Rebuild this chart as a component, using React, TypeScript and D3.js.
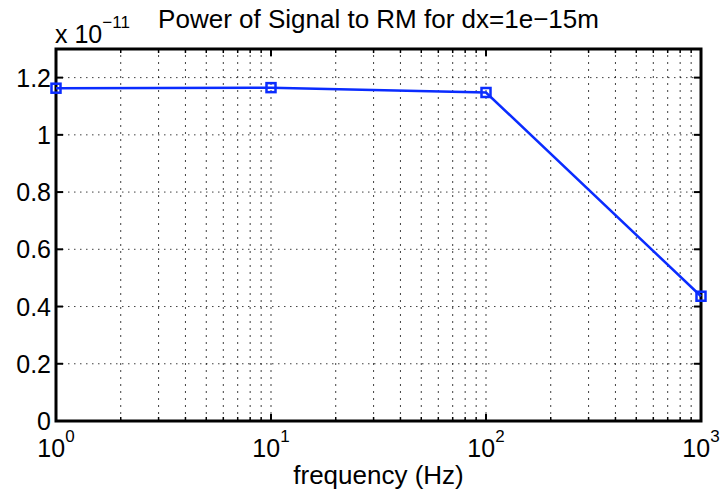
import React from "react";
import * as d3 from "d3";

const frequencies = [1, 10, 100, 1000];
const powerValues = [1.163, 1.165, 1.148, 0.436]; // x 1e-11
const yTicks = [0, 0.2, 0.4, 0.6, 0.8, 1, 1.2];
const xDecades = [1, 10, 100, 1000];
const xExponents = ["0", "1", "2", "3"];
const titleText = "Power of Signal to RM for dx=1e\u221215m";
const xLabel = "frequency (Hz)";

const W = 723;
const H = 490;
const M = { left: 56, right: 22, top: 49, bottom: 69 };

export default function App() {
  const x = d3.scaleLog().domain([1, 1000]).range([M.left, W - M.right]);
  const y = d3.scaleLinear().domain([0, 1.3]).range([H - M.bottom, M.top]);
  const minor: number[] = [];
  for (let d = 1; d < 1000; d *= 10) for (let k = 2; k <= 9; k++) minor.push(d * k);
  const line = d3
    .line<number>()
    .x((_, i) => x(frequencies[i]))
    .y((v) => y(v));
  const font = "'Liberation Sans', Arial, Helvetica, sans-serif";
  const x0 = M.left, x1 = W - M.right, y0 = H - M.bottom, y1 = M.top;
  const blue = "#0a2cff";
  return (
    <svg width={W} height={H} style={{ position: "absolute", left: 0, top: 0, background: "#fff" }} fontFamily={font}>
      <rect x={0} y={0} width={W} height={H} fill="#fff" />
      {/* grid */}
      {[...xDecades, ...minor].map((v, i) => (
        <line key={"gx" + i} x1={x(v)} x2={x(v)} y1={y0} y2={y1} stroke="#000" strokeWidth={1} strokeDasharray="2,5" opacity={0.75} />
      ))}
      {yTicks.map((v, i) => (
        <line key={"gy" + i} x1={x0} x2={x1} y1={y(v)} y2={y(v)} stroke="#000" strokeWidth={1} strokeDasharray="1.5,4.5" opacity={0.75} />
      ))}
      {/* ticks */}
      {xDecades.map((v, i) => (
        <g key={"tx" + i}>
          <line x1={x(v)} x2={x(v)} y1={y0} y2={y0 - 7} stroke="#000" strokeWidth={2} />
          <line x1={x(v)} x2={x(v)} y1={y1} y2={y1 + 7} stroke="#000" strokeWidth={2} />
        </g>
      ))}
      {minor.map((v, i) => (
        <g key={"mx" + i}>
          <line x1={x(v)} x2={x(v)} y1={y0} y2={y0 - 4} stroke="#000" strokeWidth={1.5} />
          <line x1={x(v)} x2={x(v)} y1={y1} y2={y1 + 4} stroke="#000" strokeWidth={1.5} />
        </g>
      ))}
      {yTicks.map((v, i) => (
        <g key={"ty" + i}>
          <line x1={x0} x2={x0 + 7} y1={y(v)} y2={y(v)} stroke="#000" strokeWidth={2} />
          <line x1={x1} x2={x1 - 7} y1={y(v)} y2={y(v)} stroke="#000" strokeWidth={2} />
        </g>
      ))}
      {/* box */}
      <rect x={x0} y={y1} width={x1 - x0} height={y0 - y1} fill="none" stroke="#000" strokeWidth={3} />
      {/* data */}
      <path d={line(powerValues) || ""} fill="none" stroke={blue} strokeWidth={2.5} />
      {powerValues.map((v, i) => (
        <rect key={"m" + i} x={x(frequencies[i]) - 4.5} y={y(v) - 4.5} width={9} height={9} fill="none" stroke={blue} strokeWidth={2.5} />
      ))}
      {/* y tick labels */}
      {yTicks.map((v, i) => (
        <text key={"yl" + i} x={x0 - 5} y={y(v)} dy="0.36em" textAnchor="end" fontSize={25}>
          {String(v)}
        </text>
      ))}
      {/* x tick labels */}
      {xDecades.map((v, i) => (
        <text key={"xl" + i} x={x(v)} y={457} textAnchor="middle" fontSize={25}>
          10
          <tspan fontSize={17} dy={-15}>{xExponents[i]}</tspan>
        </text>
      ))}
      {/* exponent multiplier */}
      <text x={55} y={43} fontSize={25}>
        x 10<tspan fontSize={17} dy={-15}>{"\u221211"}</tspan>
      </text>
      <text x={(x0 + x1) / 2} y={28} textAnchor="middle" fontSize={26}>
        {titleText}
      </text>
      <text x={(x0 + x1) / 2} y={484} textAnchor="middle" fontSize={26}>
        {xLabel}
      </text>
    </svg>
  );
}
